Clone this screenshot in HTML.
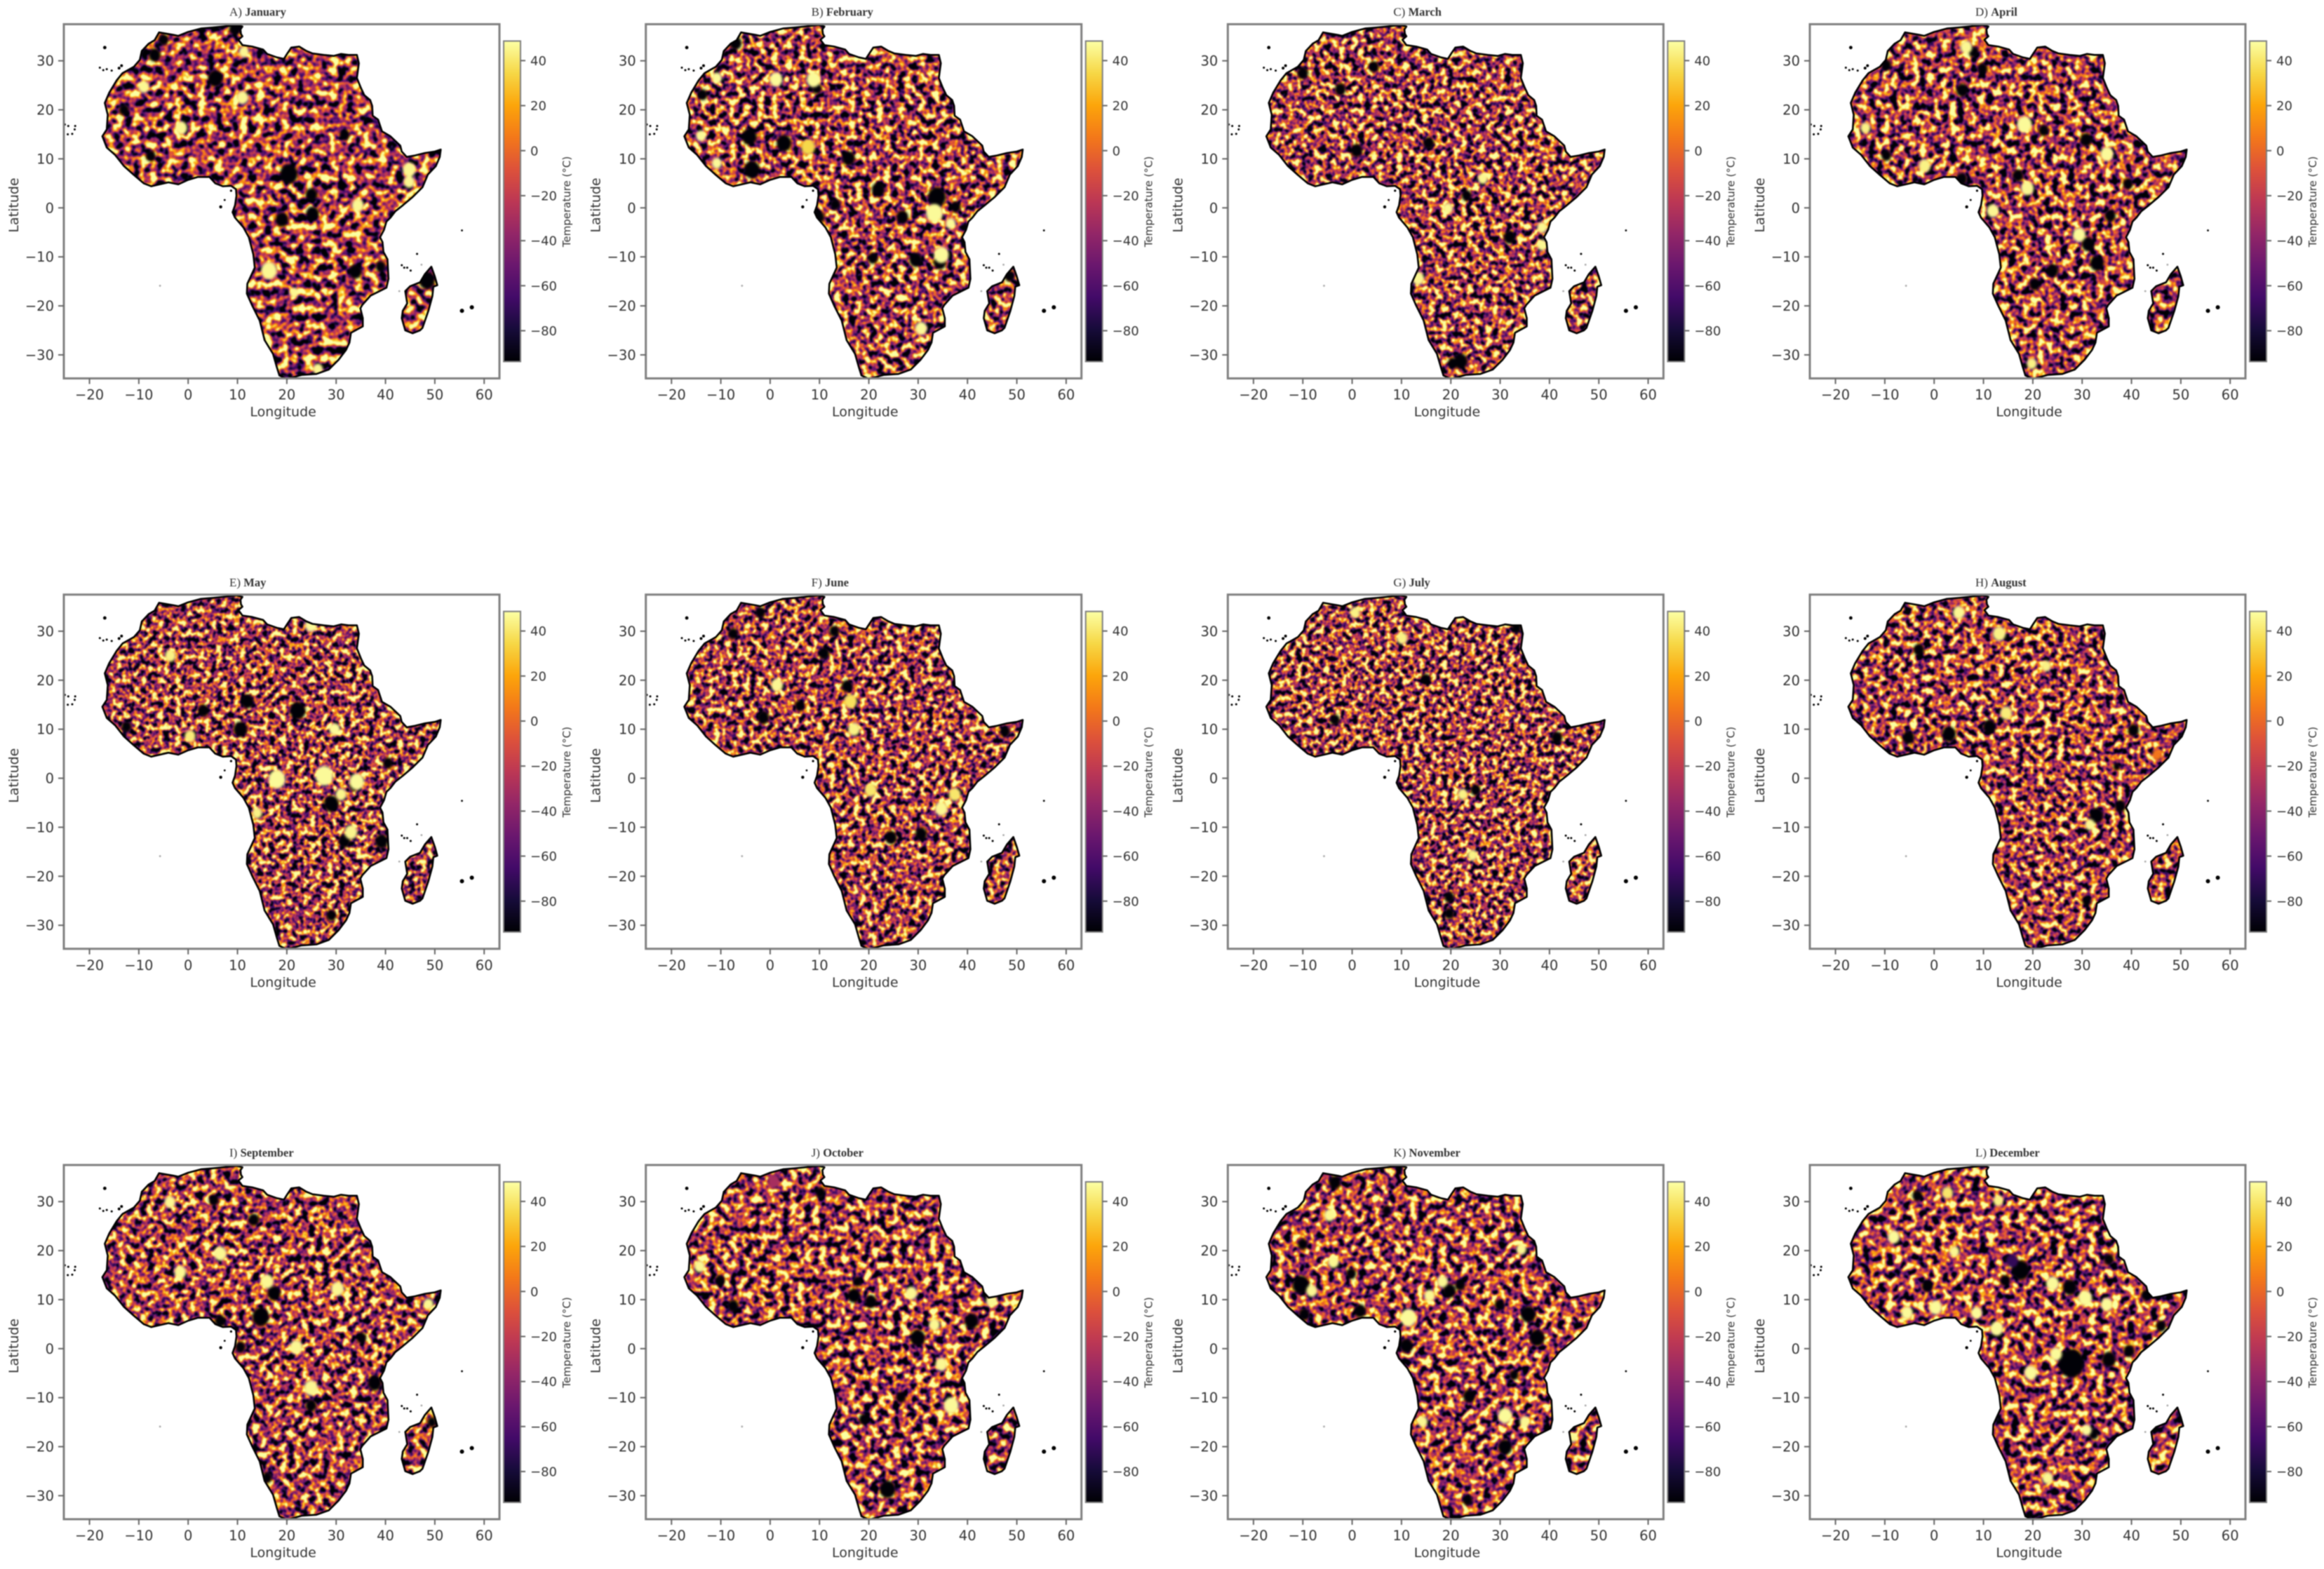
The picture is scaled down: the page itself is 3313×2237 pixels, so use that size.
<!DOCTYPE html>
<html lang="en">
<head>
<meta charset="utf-8">
<title>Monthly temperature maps of Africa</title>
<style>
html,body{margin:0;padding:0;background:#fff;width:3313px;height:2237px;overflow:hidden}
#figure{display:block;filter:blur(0.7px)}
text{font-family:"DejaVu Sans","Liberation Sans",sans-serif;fill:#333}
.ttl{font-family:"Liberation Serif",serif;fill:#333}
</style>
</head>
<body>
<svg id="figure" xmlns="http://www.w3.org/2000/svg" width="3313" height="2237" viewBox="0 0 3313 2237">
<rect width="3313" height="2237" fill="#fff"/>
</svg>
<script>
// ---- chart data ----
const monthNames = ["January","February","March","April","May","June","July","August","September","October","November","December"];
const panelLetters = ["A","B","C","D","E","F","G","H","I","J","K","L"];
const lonTicks = [-20,-10,0,10,20,30,40,50,60];
const latTicks = [-30,-20,-10,0,10,20,30];
const tempTicks = [-80,-60,-40,-20,0,20,40];
const infernoR = [0,.086,.259,.416,.576,.737,.867,.953,.988,.965,.988];
const infernoG = [0,.043,.039,.09,.149,.216,.318,.471,.647,.843,1];
const infernoB = [.016,.224,.408,.431,.404,.329,.227,.098,.039,.275,.643];
// texture settings per month (grain of the fine background field)
const textureSeed = [11,23,37,41,59,67,73,89,97,103,113,127];
const textureGrain = [.085,.1,.11,.095,.12,.115,.125,.105,.1,.095,.095,.09];
// coastline, [lon, lat]
const coastline = [[-5.9,35.8],[-3,35.3],[-2,35.1],[0,35.9],[2.6,36.6],[5,36.8],[7,37],[9.8,37.3],[11,37],[10.6,36.4],[10.7,35.5],[11,35],[10.2,34.3],[11,33.2],[13,32.9],[15.2,32.3],[16,31.4],[18,30.7],[19.4,30.4],[20.1,31.5],[20.9,32.7],[22.5,32.9],[24,32],[25.2,31.5],[27.5,31.2],[29.5,31],[31,31.4],[32.5,31.2],[34.2,31.2],[34.6,29.5],[34.4,28],[34.2,26.5],[35,24.5],[35.7,23],[36.9,22],[37.3,20.8],[37.4,18.8],[38.5,18],[39.3,15.6],[41,14.6],[43,12.7],[43.3,11.5],[44.3,10.4],[46,10.7],[48,11.2],[50,11.5],[51.2,11.9],[51,10.4],[50.2,8.5],[48.6,6.8],[47.5,4.2],[45.5,2.2],[43.5,.5],[42,-.7],[41,-2],[40.2,-2.8],[39.7,-4.5],[38.9,-6],[39.4,-7],[39.6,-9],[40.4,-10.5],[40.6,-14.5],[40.2,-16.3],[37,-17.9],[35.3,-19.8],[34.9,-20.5],[35.4,-22.5],[35.4,-24.2],[33,-25.5],[32.7,-27.5],[32,-29],[30.5,-31],[28.5,-33],[26,-33.9],[23,-34.1],[20,-34.9],[18.5,-34.2],[18,-32.6],[17.2,-29.8],[15.5,-27],[14.5,-23],[13,-20],[11.9,-17.5],[12,-15.5],[13.5,-12.2],[13.2,-9.5],[12.3,-6],[11.2,-4],[9.5,-2],[9,-.9],[9.5,.5],[9.8,2.5],[9.7,3.8],[8.7,4.5],[7,4.4],[5.5,5],[4.3,6.3],[2,6.3],[0,5.7],[-2,4.8],[-4,5.2],[-7.5,4.4],[-9,5],[-11,6.7],[-13,8.5],[-14.8,10.8],[-16.5,12.3],[-17.4,14.6],[-16.5,16],[-16.3,19],[-16.9,21.4],[-16,23.5],[-14.5,26],[-13.3,27.5],[-11,28.8],[-9.8,30.2],[-9.4,32],[-8,33.5],[-6.8,34.2]];
const madagascar = [[49.3,-12],[50,-14],[50.5,-15.8],[49.7,-16.1],[49.5,-18],[48.7,-21],[47.5,-24.5],[47,-25],[45.5,-25.6],[44,-25],[43.3,-22.5],[43.5,-21],[44.4,-19.5],[44,-17],[45,-16],[47,-15.2],[48,-13.5]];
const islandsLon = [55.5,57.5,55.5,46.4,43.3,43.8,44.4,45.1,-17.9,-17.2,-16.5,-15.5,-14,-13.5,-16.9,-25,-24.3,-23.5,-23,-24.4,-22.9,6.6,7.4,8.7];
const islandsLat = [-21,-20.3,-4.6,-9.4,-11.7,-12.2,-12.2,-12.8,28.6,28.1,28.3,28,28.5,29,32.7,17,16.7,15.1,16,15,16.7,.2,1.6,3.5];
const islandsSize = [3,3,1.4,1.5,1.5,1.5,1.5,1.5,1.5,1.5,1.5,1.5,2,2,2.4,1.5,1.5,1.5,1.5,1.5,1.5,2.2,1.4,1.6];
const faintIslandsLon = [-5.7,42.8,47.3];
const faintIslandsLat = [-15.9,-17,-11.6];
// spots, [lon, lat, radius in degrees, temperature °C]
const janSpots = [[20.4,6.9,1.8,-93],[25.2,-1.2,1.3,-93],[19,-2.4,1.3,-93],[33.9,-13,1.3,-93],[48.4,-14.8,1.6,-93],[5.5,26.4,1.5,-93],[-6.8,31.2,1.2,-93],[-5,34.3,1,-93],[9.5,36.6,1.2,-93],[25,2.7,1.2,-93],[39,-12,1,-93],[31.7,14.9,1,-93],[-7.6,10.6,1,-93],[-13,20,1,-93],[16.4,-12.8,1.6,46],[44.8,7.8,1.3,46],[44.8,5.3,1.1,46],[11,22.5,1.2,46],[11.3,31.8,1,46],[-9,24.7,1.1,46],[-1.4,16.3,1.2,46],[34.4,.5,1.2,46],[26.3,-32.9,1,46],[21.5,-17.3,.9,46]];
const febSpots = [[-4.2,14.5,1.5,-93],[-3.7,7.8,1.6,-93],[2.8,13.2,1.5,-93],[15.9,10.1,1.3,-93],[21.9,3.7,1.3,-93],[33.8,2.2,1.8,-93],[26.8,-1.9,1.2,-93],[9.9,-1.9,1.1,-93],[37.6,.2,1,-93],[-7,33.6,1.2,-93],[-13.7,23.1,1,-93],[29.5,-10.6,1.3,-93],[34.4,-11.1,1.3,-93],[13.2,.7,1,-93],[48.5,-13.9,1,-93],[20.8,-10.3,1,-93],[9.4,24.4,1,-93],[33.3,-1.1,1.7,47],[34.7,-9.6,1.5,47],[1.2,26.2,1.3,47],[8.8,26.2,1.4,47],[-10.8,9.1,1,47],[-14,14.7,1,47],[30.6,-24.6,1.2,47],[36.6,-3.2,1,47],[-10.8,26.5,1,47],[7.7,12.4,1.4,35]];
const marSpots = [[.9,11.7,1.2,-93],[-2.4,24.2,1.1,-93],[4.4,28.8,1,-93],[15.5,13.2,1.1,-93],[-10,27.5,1.1,-93],[22,-31.3,1.4,-93],[23.2,2.5,1,-93],[31.9,-6,1.2,-93],[20.4,-31.7,1,-93],[13.4,-14.4,1.2,46],[19.4,-.1,1,46],[38.5,-4,1,46],[38.5,-7.6,1,46],[26.5,6,1,46]];
const aprSpots = [[5.7,24,1.2,-93],[30.8,13.9,1.2,-93],[17,6.6,1.1,-93],[33,-11.3,1.4,-93],[24,-12.8,1.2,-93],[20.4,-15.6,1.1,-93],[31.2,-7.4,1.3,-93],[35.7,-1.6,1.1,-93],[8,31.8,1,-93],[5.6,5.9,1.1,-93],[-9.7,10.7,1,-93],[22.2,15.8,1,-93],[39.3,4.9,1,-93],[-9.7,29.1,1,-93],[9.8,28.4,1,-93],[18.3,17,1.5,47],[35,11,1.3,47],[29.4,-5.5,1.3,47],[18.9,4,1.3,46],[6.5,32.8,1.2,46],[19.8,-31.8,1,44],[-1.9,8.6,1.2,44],[-13.9,16.3,1,44],[11.9,-.6,1.2,46]];
const maySpots = [[22.2,13.8,1.6,-93],[12,15.7,1.3,-93],[10.6,10,1.4,-93],[3.1,13.8,1.1,-93],[40.5,3.1,1,-93],[29,-5.2,1.5,-93],[31.7,-12.8,1.2,-93],[39.2,-12.9,1.3,-93],[-12.5,10.5,1,-93],[29,-28,1,-93],[33.7,-1.4,1.1,-93],[18,-.2,1.7,47],[27.6,.5,1.8,47],[34.2,-.7,1.5,47],[24.9,31.2,1.2,47],[29.7,10,1.1,47],[.4,8.6,1.1,42],[31,-3.3,1.1,45],[33,-11,1.3,45],[-3.6,25,1.1,44],[14,-7.1,1,44]];
const junSpots = [[-1.4,12.4,1.2,-93],[15.6,18.8,1.1,-93],[10.9,25.5,1.1,-93],[30.6,-11.4,1.2,-93],[24.5,-12.1,1.2,-93],[-7.5,29.5,1,-93],[-2,33.8,1,-93],[47.6,9.5,1,-93],[6,14.8,1,-93],[13,30,1,-93],[34.7,-6.2,1.3,46],[37.4,-3.3,1.2,40],[1.4,19,1.2,46],[17,10,1.2,44],[20.4,-2.4,1.2,40],[16.3,15.7,1.3,38]];
const julSpots = [[41.5,8.3,1.1,-93],[14.9,20.2,1,-93],[-3.5,11.9,1,-93],[19.7,-24.3,1,-93],[19.7,-27.6,1,-93],[25,-2.4,1,-93],[33.3,30.7,1,-93],[10.1,28.6,1.1,44],[24.4,-15.7,1,44],[.6,33.8,1,44],[22.4,-3.3,1,44]];
const augSpots = [[32.9,-7.6,1.4,-93],[37.7,-5.7,1.1,-93],[3,9,1.4,-93],[11.2,10.5,1.3,-93],[-5.2,8.3,1.2,-93],[40.4,9.8,1.1,-93],[-3.1,26.2,1.1,-93],[37,2.4,.7,-93],[30.9,-25,.9,-93],[5,33.8,1.2,46],[13.2,29.5,1.3,44],[31.6,-9.5,1,46],[45.2,4.8,1,5],[14.6,13.3,1.2,42],[22.7,22.9,1,44]];
const sepSpots = [[14.7,6.5,1.7,-93],[17.4,11.3,1.3,-93],[37.8,-7,1.4,-93],[13.3,26.3,1.1,-93],[6.5,5.6,1.1,-93],[10.6,.3,1,-93],[35.1,2.2,1,-93],[24.9,-11.6,1.1,-93],[16,-26.3,1,-93],[5.2,30.3,1,-93],[49.4,-15,.9,-93],[21.9,.3,1.3,46],[24.9,-8,1.4,46],[16,13.7,1.3,46],[30.3,12.2,1.3,46],[-1.6,15.6,1.2,46],[6.5,19.4,1.3,46],[-3.7,29.9,1.1,46],[48.7,9.1,1,46]];
const octSpots = [[29.9,2.2,1.5,-93],[40.8,5.6,1.4,-93],[23.8,-28.7,1.6,-93],[17,10.8,1.3,-93],[20.4,9.6,1.2,-93],[-7.5,8.7,1.1,-93],[-10.2,13.9,1,-93],[33.3,4.9,1.1,46],[17.7,13.7,.9,-93],[26.5,-9.9,1,-93],[10.2,31.8,1,-93],[19,-14.4,1,-93],[36.7,-11.6,1.5,47],[34.7,-3.2,1.2,46],[28.6,11.3,1.2,46],[-14.3,16.8,1.1,46],[44.9,9.7,1.1,46],[.7,34.1,1.2,-30]];
const novSpots = [[-10.4,13,1.7,-93],[35.7,7,1.5,-93],[37.5,2.2,1.5,-93],[19.7,11.8,1.3,-93],[21.9,13,1,-93],[11,.6,1.3,-93],[31,-20.1,1.4,-93],[23.7,-9.7,1.2,-93],[1.6,7.7,1.2,-93],[-3.5,33.9,1.2,-93],[-10,21.3,1,-93],[23.4,-30.9,1,-93],[32.8,-5.4,.9,-93],[-.2,15.3,1,-93],[-9.7,7,1.1,-93],[29.9,8.9,1,-93],[7,28.2,.9,-93],[11.4,6.3,1.6,47],[31,-13.7,1.4,47],[-4.6,27.2,1.1,46],[18.3,13.7,1.1,46],[15.7,10.8,1.1,46],[-8.2,11.8,1.1,46],[-3.8,17.7,1.1,46],[14.3,-14.9,1,46],[35,-14.9,1,46],[34.3,20.3,1,46],[44.8,-18.2,.8,46]];
const decSpots = [[27.8,-3,2.6,-93],[35.4,-2.2,1.4,-93],[17.5,16,1.8,-93],[27.5,12.5,1.4,-93],[-1.4,12.8,1.1,-93],[-3.4,31.2,1,-93],[14.4,13.9,1,-93],[39.5,-.5,1.1,-93],[43,10.9,1,-93],[46,4.6,1,-93],[35.4,18.2,1,-93],[32.3,-17.4,1,-93],[15.8,17.9,1.2,-70],[-8.2,22.8,1.2,47],[19.6,-4.9,1.3,47],[24.7,-1.1,1.2,47],[30.6,10.3,1.4,47],[35,9,1.2,47],[12.7,4.1,1.3,47],[-5.5,7.3,1.2,47],[24,13.3,1.3,47],[.3,8.4,1.3,47],[8.6,7.3,1.1,47],[13,30.2,1,44],[23,-26.4,1.1,46],[30.9,-16.6,1,47],[2.7,31.8,1.1,40],[4.1,19.8,1,46]];
const monthSpots = [janSpots,febSpots,marSpots,aprSpots,maySpots,junSpots,julSpots,augSpots,sepSpots,octSpots,novSpots,decSpots];

// ---- axis limits ----
const lonMin = -25.2, lonMax = 63.1, latMin = -34.8, latMax = 37.47;
const tempMin = -93.7, tempMax = 48.7;
const axW = 621, axH = 505;

const NS = "http://www.w3.org/2000/svg";
const root = document.getElementById("figure");
function make(tag, attrs, parent){
  const n = document.createElementNS(NS, tag);
  for (const k in attrs) n.setAttribute(k, attrs[k]);
  parent.appendChild(n);
  return n;
}
function minus(v){ return String(v).replace("-", "\u2212"); }
function tempColor(t){
  const u = Math.max(0, Math.min(1, (t - tempMin) / (tempMax - tempMin))) * 10;
  const i = Math.min(9, Math.floor(u)), f = u - i;
  const c = a => Math.round(255 * (a[i] + (a[i + 1] - a[i]) * f));
  return "rgb(" + c(infernoR) + "," + c(infernoG) + "," + c(infernoB) + ")";
}

const defs = make("defs", {}, root);
const grad = make("linearGradient", {id:"inferno-ramp", x1:0, y1:1, x2:0, y2:0}, defs);
infernoR.forEach((_, i) => {
  make("stop", {offset:(i * 10) + "%", "stop-color":"rgb(" + Math.round(infernoR[i] * 255) + "," + Math.round(infernoG[i] * 255) + "," + Math.round(infernoB[i] * 255) + ")"}, grad);
});
const softSpot = make("filter", {id:"soft-spot", x:"-5%", y:"-5%", width:"110%", height:"110%", "color-interpolation-filters":"sRGB"}, defs);
make("feGaussianBlur", {stdDeviation:1.8}, softSpot);

monthNames.forEach((month, i) => {
  const col = i % 4, row = Math.floor(i / 4);
  const left = 91 + col * 829.67, top = 34.5 + row * 813.25;
  const right = left + axW, bottom = top + axH;
  const x = lon => left + (lon - lonMin) / (lonMax - lonMin) * axW;
  const y = lat => top + (latMax - lat) / (latMax - latMin) * axH;
  const key = month.toLowerCase();
  const toPath = pts => pts.map((p, j) => (j ? "L" : "M") + x(p[0]).toFixed(1) + " " + y(p[1]).toFixed(1)).join("") + "Z";
  const landPath = toPath(coastline) + toPath(madagascar);

  const panel = make("g", {}, root);
  
  

  // texture filter and clip
  const f = make("filter", {id:"field-" + i, filterUnits:"userSpaceOnUse", x:left, y:top, width:axW, height:axH, "color-interpolation-filters":"sRGB"}, defs);
  make("feTurbulence", {type:"fractalNoise", baseFrequency:textureGrain[i], numOctaves:2, seed:textureSeed[i]}, f);
  const k = 2.9, off = 0.49 - k * 0.5;
  make("feColorMatrix", {type:"matrix", values:[k,0,0,0,off, k,0,0,0,off, k,0,0,0,off, 0,0,0,0,1].join(" ")}, f);
  const ct = make("feComponentTransfer", {}, f);
  make("feFuncR", {type:"table", tableValues:infernoR.join(" ")}, ct);
  make("feFuncG", {type:"table", tableValues:infernoG.join(" ")}, ct);
  make("feFuncB", {type:"table", tableValues:infernoB.join(" ")}, ct);
  make("feGaussianBlur", {stdDeviation:0.8}, f);
  const clip = make("clipPath", {id:"land-" + i}, defs);
  make("path", {d:landPath}, clip);

  // temperature field
  const field = make("g", {"clip-path":"url(#land-" + i + ")"}, panel);
  
  
  make("rect", {x:left, y:top, width:axW, height:axH, filter:"url(#field-" + i + ")"}, field);
  const spotLayer = make("g", {filter:"url(#soft-spot)"}, field);
  monthSpots[i].forEach(s => {
    const spot = make("ellipse", {cx:x(s[0]), cy:y(s[1]), rx:s[2] * 7.03, ry:s[2] * 6.99 * 1.12, fill:tempColor(s[3])}, spotLayer);
    
    
  });

  // coast outline and islands
  const coast = make("path", {d:landPath, fill:"none", stroke:"#000", "stroke-width":2.6, "stroke-linejoin":"round"}, panel);
  
  
  islandsLon.forEach((lon, j) => {
    const dot = make("circle", {cx:x(lon), cy:y(islandsLat[j]), r:islandsSize[j], fill:"#000"}, panel);
    
    
  });
  faintIslandsLon.forEach((lon, j) => {
    const dot = make("circle", {cx:x(lon), cy:y(faintIslandsLat[j]), r:1.4, fill:"#aaa"}, panel);
    
    
  });

  // frame
  const frame = make("rect", {x:left, y:top, width:axW, height:axH, fill:"none", stroke:"#7f7f7f", "stroke-width":3}, panel);
  
  

  // title
  const title = make("text", {x:left + 236, y:top - 12, class:"ttl", "font-size":17}, panel);
  
  
  title.textContent = panelLetters[i] + ") ";
  const mt = make("tspan", {"font-weight":"bold", "font-size":16.5}, title);
  mt.textContent = month;

  // x axis
  lonTicks.forEach(v => {
    const tick = make("line", {x1:x(v), x2:x(v), y1:bottom, y2:bottom + 8, stroke:"#666", "stroke-width":2}, panel);
    
    
    const lab = make("text", {x:x(v), y:bottom + 30, "text-anchor":"middle", "font-size":19.5}, panel);
    
    
    lab.textContent = minus(v);
  });
  const xTitle = make("text", {x:left + 312.6, y:bottom + 54, "text-anchor":"middle", "font-size":19}, panel);
  
  
  xTitle.textContent = "Longitude";

  // y axis
  latTicks.forEach(v => {
    const tick = make("line", {x1:left - 8, x2:left, y1:y(v), y2:y(v), stroke:"#666", "stroke-width":2}, panel);
    
    
    const lab = make("text", {x:left - 14, y:y(v) + 7, "text-anchor":"end", "font-size":19.5}, panel);
    
    
    lab.textContent = minus(v);
  });
  const yTitle = make("text", {x:0, y:0, "text-anchor":"middle", "font-size":19, transform:"translate(" + (left - 65) + " " + (top + 258) + ") rotate(-90)"}, panel);
  
  
  yTitle.textContent = "Latitude";

  // colour bar
  const cbL = left + 627, cbW = 24, cbT = top + 24, cbH = 457;
  const cy = t => cbT + (tempMax - t) / (tempMax - tempMin) * cbH;
  const bar = make("rect", {x:cbL, y:cbT, width:cbW, height:cbH, fill:"url(#inferno-ramp)", stroke:"#7f7f7f", "stroke-width":2}, panel);
  
  
  tempTicks.forEach(v => {
    const tick = make("line", {x1:cbL + cbW, x2:cbL + cbW + 7, y1:cy(v), y2:cy(v), stroke:"#666", "stroke-width":2}, panel);
    
    
    const lab = make("text", {x:cbL + cbW + 14, y:cy(v) + 6.5, "font-size":18}, panel);
    
    
    lab.textContent = minus(v);
  });
  const cbTitle = make("text", {x:0, y:0, "text-anchor":"middle", "font-size":15, transform:"translate(" + (left + 722) + " " + (top + 253) + ") rotate(-90)"}, panel);
  
  
  cbTitle.textContent = "Temperature (°C)";
});
</script>
</body>
</html>
